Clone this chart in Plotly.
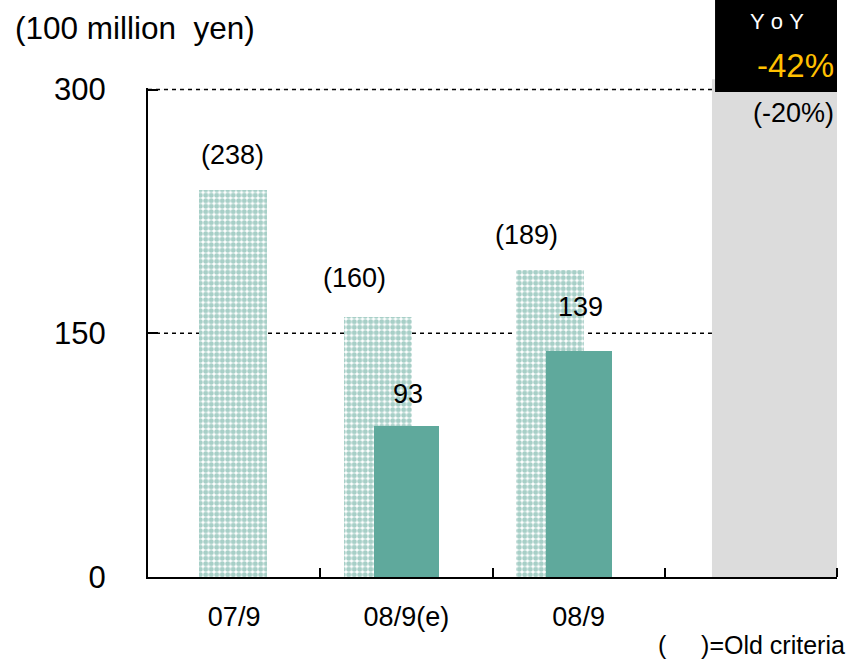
import plotly.graph_objects as go

# Ordinary income, 100 million yen
categories = ["07/9", "08/9(e)", "08/9"]
old_criteria = [238, 160, 189]
new_criteria = [None, 93, 139]
y_ticks = [0, 150, 300]
yoy_new = "-42%"
yoy_old = "(-20%)"

FONT = "Liberation Sans, Arial, sans-serif"
GREEN = "#5fa99c"
GRAY_X0 = 3.274  # left edge of the YoY column

old_x, new_x, new_y = [], [], []
for i, (o, n) in enumerate(zip(old_criteria, new_criteria)):
    centre = i + 0.5
    if n is None:
        old_x.append(centre - 0.007)
    else:
        old_x.append(centre - 0.165)
        new_x.append(centre + 0.002)
        new_y.append(n)

fig = go.Figure()
fig.add_trace(go.Bar(
    x=old_x, y=old_criteria, width=0.395,
    marker=dict(color="white", line=dict(width=0),
                pattern=dict(shape=".", fgcolor="#4f9f90", bgcolor="white",
                             size=5.5, solidity=0.65)),
    showlegend=False, hoverinfo="skip",
))
fig.add_trace(go.Bar(
    x=new_x, y=new_y, width=0.38,
    marker=dict(color=GREEN, line=dict(width=0)),
    showlegend=False, hoverinfo="skip",
))

old_lift = [35, 39, 35]
new_lift = [32, 44]
ann = []
for i, (o, n) in enumerate(zip(old_criteria, new_criteria)):
    ox = old_x[i] - (0.0 if n is None else 0.135)
    ann.append(dict(x=ox, y=o, text=f"({o})", showarrow=False,
                    yanchor="middle", yshift=old_lift[i],
                    font=dict(size=27, color="black", family=FONT)))
for x, v, lift in zip(new_x, new_y, new_lift):
    ann.append(dict(x=x + 0.01, y=v, text=f"{v}", showarrow=False,
                    yanchor="middle", yshift=lift,
                    font=dict(size=27, color="black", family=FONT)))

# unit label
ann.append(dict(xref="paper", yref="paper", x=-0.196, y=1.123,
                xanchor="left", yanchor="middle",
                text="(100 million\u00a0\u00a0yen)", showarrow=False,
                font=dict(size=31.5, color="black", family=FONT)))
# YoY box texts
ann.append(dict(xref="x", yref="paper", x=3.652, y=1.135,
                text="Y\u00a0o\u00a0Y", showarrow=False, yanchor="middle",
                font=dict(size=22, color="white", family=FONT)))
ann.append(dict(xref="paper", yref="paper", x=0.9985, y=1.045,
                xanchor="right", yanchor="middle",
                text=yoy_new, showarrow=False,
                font=dict(size=33, color="#ffc000", family=FONT)))
ann.append(dict(xref="paper", yref="paper", x=0.9985, y=0.949,
                xanchor="right", yanchor="middle",
                text=yoy_old, showarrow=False,
                font=dict(size=27, color="black", family=FONT)))
# footnote
ann.append(dict(xref="paper", yref="paper", x=1.0145, y=-0.139,
                xanchor="right", yanchor="middle",
                text="(\u00a0\u00a0\u00a0\u00a0\u00a0)=Old criteria", showarrow=False,
                font=dict(size=25, color="black", family=FONT)))

shapes = [
    dict(type="rect", xref="x", yref="paper", x0=GRAY_X0, x1=4.0,
         y0=0, y1=1.018, fillcolor="#dcdcdc", line=dict(width=0),
         layer="below"),
    dict(type="rect", xref="x", yref="paper", x0=3.292, x1=4.0,
         y0=0.992, y1=1.19, fillcolor="black", line=dict(width=0),
         layer="above"),
]
# dashed reference lines stop at the YoY column
for v in y_ticks[1:]:
    shapes.append(dict(type="line", xref="x", yref="y", x0=0, x1=GRAY_X0,
                       y0=v, y1=v, line=dict(color="black", width=1.5,
                                             dash="4px,4px"),
                       layer="below"))

fig.update_layout(
    width=852, height=659,
    margin=dict(l=148, r=15, t=88, b=82),
    paper_bgcolor="white", plot_bgcolor="rgba(0,0,0,0)",
    barmode="overlay", bargap=0,
    font=dict(family=FONT, color="black"),
    annotations=ann, shapes=shapes,
    xaxis=dict(
        range=[0, 4], tickvals=[0.5, 1.5, 2.5], ticktext=categories,
        ticks="", showgrid=False, zeroline=False,
        showline=True, linecolor="black", linewidth=2,
        tickfont=dict(size=27, family=FONT, color="black"),
        ticklabelstandoff=15,
        minor=dict(tickvals=[1, 2, 3, 4], ticks="inside", ticklen=9,
                   tickwidth=1.5, tickcolor="black", showgrid=False),
    ),
    yaxis=dict(
        range=[0, 301], tickvals=y_ticks,
        ticks="inside", ticklen=10, tickwidth=1.5, tickcolor="black",
        showgrid=False, zeroline=False,
        showline=True, linecolor="black", linewidth=2,
        tickfont=dict(size=31, family=FONT, color="black"),
        ticklabelstandoff=34,
    ),
)

fig.write_html("out.html")
